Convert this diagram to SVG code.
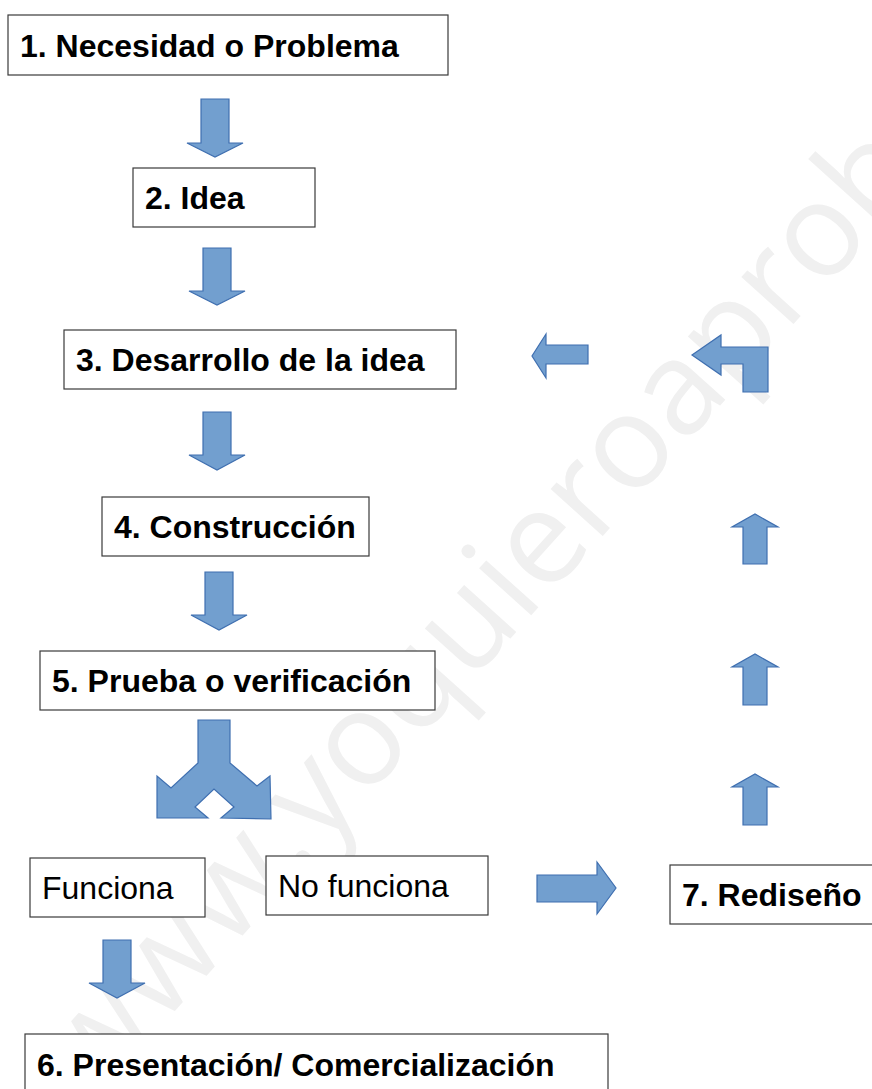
<svg xmlns="http://www.w3.org/2000/svg" width="872" height="1089" viewBox="0 0 872 1089">
<style>
.box{fill:#fff;stroke:#3a3a3a;stroke-width:1.2}
.b{font-family:"Liberation Sans",Arial,sans-serif;font-weight:bold;font-size:32px;fill:#000}
.n{font-family:"Liberation Sans",Arial,sans-serif;font-size:32px;fill:#000}
.arr{fill:#729fcf;stroke:#3f6fb0;stroke-width:1.2;stroke-linejoin:miter}
.wm{font-family:"Open Sans","Liberation Sans",sans-serif;font-size:131px;fill:#f0f0f0}
</style>
<rect width="872" height="1089" fill="#fff"/>
<g id="watermark">
<text class="wm" transform="translate(93,1102) rotate(-48)">www.yoquieroaprob</text>
</g>
<g id="connectors">
<polygon class="arr" points="201,99 229,99 229,143 243,143 215,157 187,143 201,143"/>
<polygon class="arr" points="203,248 231,248 231,291 245,291 217,305 189,291 203,291"/>
<polygon class="arr" points="203,412 231,412 231,455 245,455 217,470 189,455 203,455"/>
<polygon class="arr" points="205,572 233,572 233,615 247,615 219,630 191,615 205,615"/>
<polygon class="arr" points="198,720 230,720 230,763 257,786 270,776 271,819 221,818 234,807 214,789 195,807 208,818 157,818 157,776 171,788 198,763"/>
<polygon class="arr" points="103,940 131,940 131,983 145,983 117,998 89,983 103,983"/>
<polygon class="arr" points="537,875 597,875 597,862 616,888 597,914 597,902 537,902"/>
<polygon class="arr" points="767,825 767,787 778,787 755,774 732,787 743,787 743,825"/>
<polygon class="arr" points="767,705 767,667 778,667 755,654 732,667 743,667 743,705"/>
<polygon class="arr" points="767,564 767,527 778,527 755,514 732,527 743,527 743,564"/>
<polygon class="arr" points="588,345 588,364 546,364 546,378 532,356 546,334 546,345"/>
<polygon class="arr" points="692,355 721,335 721,347 768,347 768,392 743,392 743,364 721,364 721,375"/>
</g>
<g id="n1"><rect class="box" x="8" y="15" width="440" height="60"/><text class="b" x="20" y="57">1. Necesidad o Problema</text></g>
<g id="n2"><rect class="box" x="133" y="168" width="182" height="59"/><text class="b" x="145" y="209">2. Idea</text></g>
<g id="n3"><rect class="box" x="64" y="330" width="392" height="59"/><text class="b" x="76" y="371">3. Desarrollo de la idea</text></g>
<g id="n4"><rect class="box" x="102" y="497" width="267" height="59"/><text class="b" x="114" y="538">4. Construcción</text></g>
<g id="n5"><rect class="box" x="40" y="651" width="395" height="59"/><text class="b" x="52" y="692">5. Prueba o verificación</text></g>
<g id="nf"><rect class="box" x="30" y="858" width="175" height="59"/><text class="n" x="42" y="899">Funciona</text></g>
<g id="nnf"><rect class="box" x="266" y="856" width="222" height="59"/><text class="n" x="278" y="897">No funciona</text></g>
<g id="n7"><rect class="box" x="670" y="865" width="210" height="59"/><text class="b" x="682" y="906">7. Rediseño</text></g>
<g id="n6"><rect class="box" x="25" y="1034" width="583" height="70"/><text class="b" x="37" y="1076">6. Presentación/ Comercialización</text></g>
</svg>
